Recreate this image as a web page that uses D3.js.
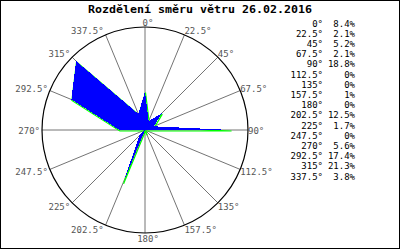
<!DOCTYPE html>
<html>
<head>
<meta charset="utf-8">
<script src="https://cdn.jsdelivr.net/npm/d3@7"></script>
<style>
	body { margin: 0; background: #fff; }
	text { font-family: "DejaVu Sans Mono", monospace; }
</style>
</head>
<body>
<div id="chart"></div>
<script>

var title = "Rozdělení směru větru 26.02.2016";

// wind directions in degrees and their share in percent
var directions = [0, 22.5, 45, 67.5, 90, 112.5, 135, 157.5, 180, 202.5, 225, 247.5, 270, 292.5, 315, 337.5];
var shares = [8.4, 2.1, 5.2, 2.1, 18.8, 0, 0, 1, 0, 12.5, 1.7, 0, 5.6, 17.4, 21.3, 3.8];
var directionLabels = ["0°", "22.5°", "45°", "67.5°", "90°", "112.5°", "135°", "157.5°", "180°", "202.5°", "225°", "247.5°", "270°", "292.5°", "315°", "337.5°"];
var shareLabels = ["8.4%", "2.1%", "5.2%", "2.1%", "18.8%", "0%", "0%", "1%", "0%", "12.5%", "1.7%", "0%", "5.6%", "17.4%", "21.3%", "3.8%"];

var width = 400,
	height = 250,
	cx = 145,
	cy = 130,
	R = 103;

var toRad = function(d) { return d * Math.PI / 180; };

var r = d3.scaleLinear().domain([0, 22.5]).range([0, R]);

var svg = d3.select("#chart").append("svg")
	.attr("width", width)
	.attr("height", height);

// frame
svg.append("rect")
	.attr("x", 0.5)
	.attr("y", 0.5)
	.attr("width", width - 1)
	.attr("height", 248)
	.attr("fill", "#fff")
	.attr("stroke", "#000");

// title
svg.append("text")
	.attr("x", 200)
	.attr("y", 13)
	.attr("text-anchor", "middle")
	.attr("font-size", "11px")
	.attr("font-weight", "bold")
	.attr("textLength", 224)
	.attr("lengthAdjust", "spacingAndGlyphs")
	.attr("fill", "#000")
	.text(title);

var rose = svg.append("g")
	.attr("transform", "translate(" + cx + "," + cy + ")");

// spokes
rose.selectAll("line.spoke")
	.data(directions)
	.enter()
	.append("line")
	.attr("class", "spoke")
	.attr("x1", 0)
	.attr("y1", 0)
	.attr("x2", function(d) { return R * Math.sin(toRad(d)); })
	.attr("y2", function(d) { return -R * Math.cos(toRad(d)); })
	.attr("stroke", "#747474")
	.attr("stroke-width", 1);

// outer circle
rose.append("circle")
	.attr("r", R)
	.attr("fill", "none")
	.attr("stroke", "#000")
	.attr("stroke-width", 1.2);

// polygon
var radial = d3.lineRadial()
	.angle(function(d, i) { return toRad(directions[i]); })
	.radius(function(d) { return r(d); })
	.curve(d3.curveLinearClosed);

rose.append("path")
	.attr("d", radial(shares))
	.attr("transform", "translate(0.5,1)")
	.attr("fill", "none")
	.attr("stroke", "#00ff00")
	.attr("stroke-width", 1.2);

rose.append("path")
	.attr("d", radial(shares))
	.attr("fill", "#0000ff")
	.attr("shape-rendering", "crispEdges");

// direction labels round the circle
rose.selectAll("text.dir")
	.data(directions)
	.enter()
	.append("text")
	.attr("class", "dir")
	.attr("font-size", "9px")
	.attr("fill", "#555")
	.attr("dominant-baseline", "middle")
	.attr("text-anchor", function(d) {
		if (d === 0 || d === 180) return "middle";
		return d < 180 ? "start" : "end";
	})
	.attr("x", function(d) {
		var px = R * Math.sin(toRad(d));
		if (d === 0 || d === 180) return px + 3;
		return d < 180 ? px : px - 2;
	})
	.attr("y", function(d) {
		return -R * Math.cos(toRad(d)) - 5 * Math.cos(toRad(d)) + 1;
	})
	.text(function(d, i) { return directionLabels[i]; });

// legend list on the right
var legend = svg.append("g");

legend.selectAll("text.ang")
	.data(directionLabels)
	.enter()
	.append("text")
	.attr("class", "ang")
	.attr("x", 323)
	.attr("y", function(d, i) { return 24 + i * 10.2; })
	.attr("dominant-baseline", "middle")
	.attr("text-anchor", "end")
	.attr("font-size", "9px")
	.attr("fill", "#000")
	.text(function(d) { return d; });

legend.selectAll("text.pct")
	.data(shareLabels)
	.enter()
	.append("text")
	.attr("class", "pct")
	.attr("x", 355)
	.attr("y", function(d, i) { return 24 + i * 10.2; })
	.attr("dominant-baseline", "middle")
	.attr("text-anchor", "end")
	.attr("font-size", "9px")
	.attr("fill", "#000")
	.text(function(d) { return d; });

</script>
</body>
</html>
